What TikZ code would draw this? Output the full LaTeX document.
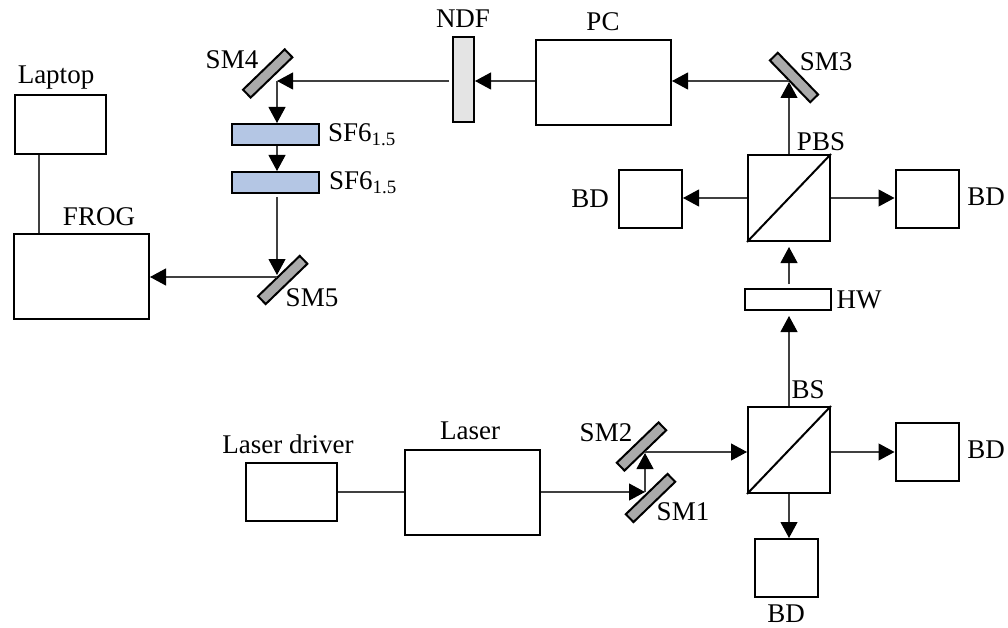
\documentclass[tikz,border=0pt]{standalone}
\usepackage{fontspec}
\setmainfont{Liberation Serif}
\usetikzlibrary{arrows.meta}
\definecolor{mirrorgray}{RGB}{170,170,170}
\definecolor{filtergray}{RGB}{228,228,228}
\definecolor{slabblue}{RGB}{180,198,228}
\tikzset{
    box/.style={draw=black, line width=2pt, inner sep=0pt},
    mirror/.style={box, fill=mirrorgray, minimum width=58pt, minimum height=11pt},
    slab/.style={box, fill=slabblue, minimum width=87pt, minimum height=21pt},
    cube/.style={box, minimum width=82pt, minimum height=86pt},
    detector/.style={box, minimum width=63pt, minimum height=58pt},
    beam/.style={draw=black!75, line width=1.1pt},
    ray/.style={beam, -{Triangle[length=16pt,width=17pt,color=black]}},
    tag/.style={inner sep=0pt, font=\fontsize{27}{29}\selectfont},
}
\begin{document}
\begin{tikzpicture}[x=1pt,y=-1pt]
    \useasboundingbox (0,0) rectangle (1008,628);

    \node [box, minimum width=91pt, minimum height=59pt] (laptop) at (60,124.5) {};
    \node [box, minimum width=135pt, minimum height=85pt] (frog) at (81.5,276.5) {};
    \node [box, minimum width=91pt, minimum height=58pt] (driver) at (291.5,492) {};
    \node [box, minimum width=135pt, minimum height=85pt] (laser) at (472.5,492) {};
    \node [box, minimum width=135pt, minimum height=85pt] (pc) at (603.5,83) {};
    \node [box, fill=filtergray, minimum width=21pt, minimum height=85pt] (ndf) at (463.5,79.5) {};
    \node [slab] (slaba) at (275.5,134.5) {};
    \node [slab] (slabb) at (275.5,182.5) {};
    \node [box, minimum width=86pt, minimum height=21pt] (hw) at (788,299.5) {};

    \node [cube] (bs) at (789,450) {};
    \node [cube] (pbs) at (789,198) {};
    \draw [line width=2pt] (bs.south west) -- (bs.north east);
    \draw [line width=2pt] (pbs.south west) -- (pbs.north east);

    \node [detector] (bdtop) at (927,199.5) {};
    \node [detector] (bdleft) at (650.5,199.5) {};
    \node [detector] (bdright) at (927,451.5) {};
    \node [detector] (bdlow) at (786.5,568) {};

    \node [mirror, rotate=44] (smone) at (650.5,498) {};
    \node [mirror, rotate=44] (smtwo) at (641.5,446.5) {};
    \node [mirror, rotate=-46] (smthree) at (794,77.5) {};
    \node [mirror, rotate=44] (smfour) at (267.7,73.5) {};
    \node [mirror, rotate=44] (smfive) at (282.7,280) {};

    % beam turning points on the mirrors
    \coordinate (hitone) at (645,492);
    \coordinate (hittwo) at (645,452);
    \coordinate (hitthree) at (789,81);
    \coordinate (hitfour) at (277,81);
    \coordinate (hitfive) at (277,277);

    \draw [beam] (laptop.south -| 39,0) -- (frog.north -| 39,0);
    \draw [beam] (driver.east) -- (laser.west);
    \draw [ray] (laser.east) -- (hitone);
    \draw [ray, shorten >=1pt] (hitone) -- (hittwo);
    \draw [ray] (hittwo) -- (bs.west |- hittwo);
    \draw [ray] (bs.east |- hittwo) -- (bdright.west |- hittwo);
    \draw [ray] (bs.south) -- (bs.south |- bdlow.north);
    \draw [ray, shorten >=5pt] (bs.north) -- (hw.south -| bs.north);
    \draw [ray, shorten <=4pt, shorten >=5pt] (hw.north -| pbs.south) -- (pbs.south);
    \draw [ray] (pbs.east) -- (bdtop.west |- pbs.east);
    \draw [ray] (pbs.west) -- (bdleft.east |- pbs.west);
    \draw [ray, shorten >=1pt] (pbs.north) -- (hitthree);
    \draw [ray] (hitthree) -- (pc.east |- hitthree);
    \draw [ray] (pc.west |- hitthree) -- (ndf.east |- hitthree);
    \draw [ray, shorten <=3pt] (ndf.west |- hitfour) -- (hitfour);
    \draw [ray] (hitfour) -- (hitfour |- slaba.north);
    \draw [ray] (hitfour |- slaba.south) -- (hitfour |- slabb.north);
    \draw [ray, shorten <=3pt, shorten >=2pt] (hitfive |- slabb.south) -- (hitfive);
    \draw [ray] (hitfive) -- (frog.east |- hitfive);

    \node [tag] (laptoptag) at (56,78) {Laptop};
    \node [tag] (frogtag) at (99,217) {FROG};
    \node [tag] (drivertag) at (288,444) {Laser driver};
    \node [tag] (lasertag) at (470,431) {Laser};
    \node [tag] (pctag) at (603,22) {PC};
    \node [tag] (ndftag) at (463,19) {NDF};
    \node [tag] (smonetag) at (683,512) {SM1};
    \node [tag] (smtwotag) at (606,433) {SM2};
    \node [tag] (smthreetag) at (826,62) {SM3};
    \node [tag] (smfourtag) at (232,60) {SM4};
    \node [tag] (smfivetag) at (312,298) {SM5};
    \node [tag, anchor=west] (slabatag) at (328,135) {SF6\textsubscript{1.5}};
    \node [tag, anchor=west] (slabbtag) at (329,183) {SF6\textsubscript{1.5}};
    \node [tag] (hwtag) at (859,300) {HW};
    \node [tag] (bstag) at (808,390) {BS};
    \node [tag] (pbstag) at (821,142) {PBS};
    \node [tag] (bdtoptag) at (986,197) {BD};
    \node [tag] (bdlefttag) at (590,199) {BD};
    \node [tag] (bdrighttag) at (986,450) {BD};
    \node [tag] (bdlowtag) at (786,614) {BD};
\end{tikzpicture}
\end{document}
